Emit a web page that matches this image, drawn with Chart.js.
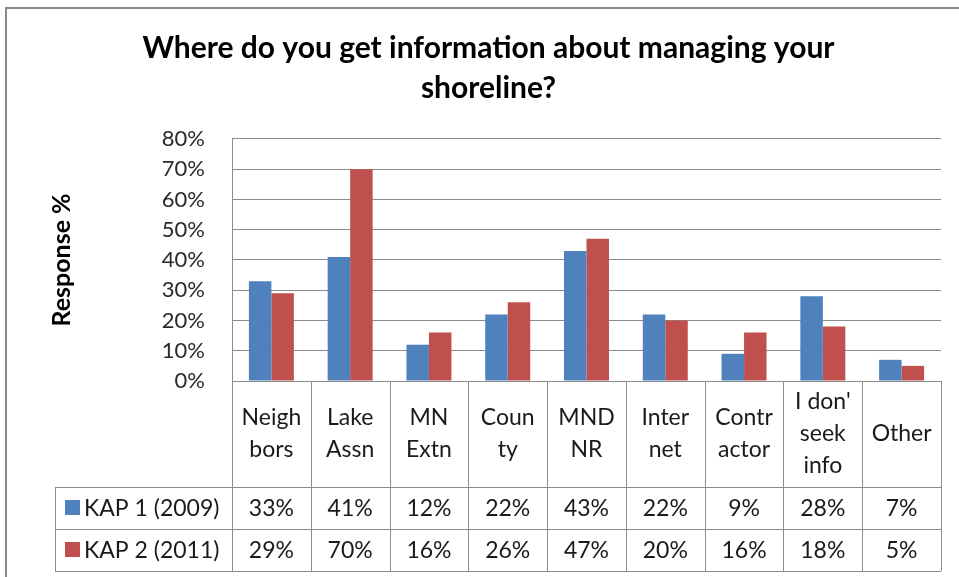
<!DOCTYPE html>
<html>
<head>
<meta charset="utf-8">
<script src="https://cdn.jsdelivr.net/npm/chart.js@4/dist/chart.umd.min.js"></script>
<style>
  html, body { margin: 0; padding: 0; background: #fff; }
  #wrap { width: 959px; height: 577px; }
</style>
</head>
<body>
<div id="wrap"><canvas id="chart"></canvas></div>
<script>
const categories = [
    ['Neigh', 'bors'], ['Lake', 'Assn'], ['MN', 'Extn'], ['Coun', 'ty'], ['MND', 'NR'],
    ['Inter', 'net'], ['Contr', 'actor'], ["I don'", 'seek', 'info'], ['Other']
];
const seriesNames = ['KAP 1 (2009)', 'KAP 2 (2011)'];
const kap1 = [33, 41, 12, 22, 43, 22, 9, 28, 7];
const kap2 = [29, 70, 16, 26, 47, 20, 16, 18, 5];
const yTicks = [0, 10, 20, 30, 40, 50, 60, 70, 80];

const FONT = 'Lato, "Open Sans", sans-serif';
const LINE = '#8c8c8c';
const TEXT = '#1a1a1a';
const colors = ['#4f81bd', '#c0504d'];

// draws the frame and the data table under the plot
const tablePlugin = {
    id: 'dataTable',
    beforeDraw(chart) {
        const ctx = chart.ctx;
        ctx.save();
        ctx.strokeStyle = '#8a8a8a';
        ctx.lineWidth = 2;
        ctx.beginPath();
        ctx.moveTo(6, 577);
        ctx.lineTo(6, 8);
        ctx.lineTo(959, 8);
        ctx.stroke();
        ctx.restore();
    },
    afterDraw(chart) {
        const ctx = chart.ctx;
        const x = chart.scales.x;
        const area = chart.chartArea;
        const top = area.bottom;
        const row1 = top + 106, row2 = row1 + 42, bottom = row2 + 42;
        const legendLeft = 55;
        const half = (x.getPixelForValue(1) - x.getPixelForValue(0)) / 2;

        ctx.save();
        ctx.strokeStyle = LINE;
        ctx.lineWidth = 1;
        ctx.beginPath();
        for (let i = 0; i <= categories.length; i++) {
            const px = Math.round(x.getPixelForValue(0) - half + i * 2 * half) + 0.5;
            ctx.moveTo(px, top);
            ctx.lineTo(px, bottom);
        }
        [row1, row2, bottom].forEach(y => {
            ctx.moveTo(legendLeft, y + 0.5);
            ctx.lineTo(area.right, y + 0.5);
        });
        ctx.moveTo(legendLeft + 0.5, row1);
        ctx.lineTo(legendLeft + 0.5, bottom);
        ctx.stroke();

        ctx.fillStyle = TEXT;
        ctx.font = '23px ' + FONT;
        ctx.textAlign = 'center';
        ctx.textBaseline = 'middle';
        categories.forEach((lab, i) => {
            const cx = x.getPixelForValue(i);
            const cy = (top + row1) / 2;
            lab.forEach((line, j) => {
                ctx.fillText(line, cx, cy + (j - (lab.length - 1) / 2) * 32);
            });
        });
        [kap1, kap2].forEach((vals, r) => {
            const cy = r === 0 ? (row1 + row2) / 2 : (row2 + bottom) / 2;
            vals.forEach((v, i) => {
                ctx.fillText(v + '%', x.getPixelForValue(i), cy + 1);
            });
            ctx.fillStyle = colors[r];
            ctx.fillRect(legendLeft + 10, cy - 8, 15, 15);
            ctx.fillStyle = TEXT;
            ctx.textAlign = 'left';
            ctx.fillText(seriesNames[r], legendLeft + 29, cy + 1);
            ctx.textAlign = 'center';
        });
        ctx.restore();
    }
};

new Chart(document.getElementById('chart'), {
    type: 'bar',
    data: {
        labels: categories,
        datasets: [
            { label: seriesNames[0], data: kap1, backgroundColor: colors[0] },
            { label: seriesNames[1], data: kap2, backgroundColor: colors[1] }
        ]
    },
    options: {
        responsive: true,
        maintainAspectRatio: false,
        animation: false,
        layout: { padding: { left: 36, right: 18, top: 10, bottom: 6 } },
        datasets: { bar: { categoryPercentage: 0.571, barPercentage: 1 } },
        plugins: {
            legend: { display: false },
            tooltip: { enabled: false },
            title: {
                display: true,
                text: ['Where do you get information about managing your', 'shoreline?'],
                color: '#000',
                font: { family: FONT, size: 30, weight: 'bold', lineHeight: 1.333 },
                padding: { top: 18, bottom: 31 }
            }
        },
        scales: {
            x: {
                grid: { display: false },
                border: { color: LINE },
                ticks: { display: false },
                afterFit(scale) { scale.height = 190; }
            },
            y: {
                min: 0,
                max: 80,
                afterBuildTicks(scale) { scale.ticks = yTicks.map(v => ({ value: v })); },
                afterFit(scale) { scale.width = 196; },
                grid: { color: LINE, drawTicks: false },
                border: { color: LINE },
                ticks: {
                    padding: 27,
                    color: '#2a2a2a',
                    font: { family: FONT, size: 22 },
                    callback: v => v + '%'
                },
                title: {
                    display: true,
                    text: 'Response %',
                    color: '#000',
                    font: { family: FONT, size: 25, weight: 'bold' },
                    padding: { top: 11 }
                }
            }
        }
    },
    plugins: [tablePlugin]
});
</script>
</body>
</html>
